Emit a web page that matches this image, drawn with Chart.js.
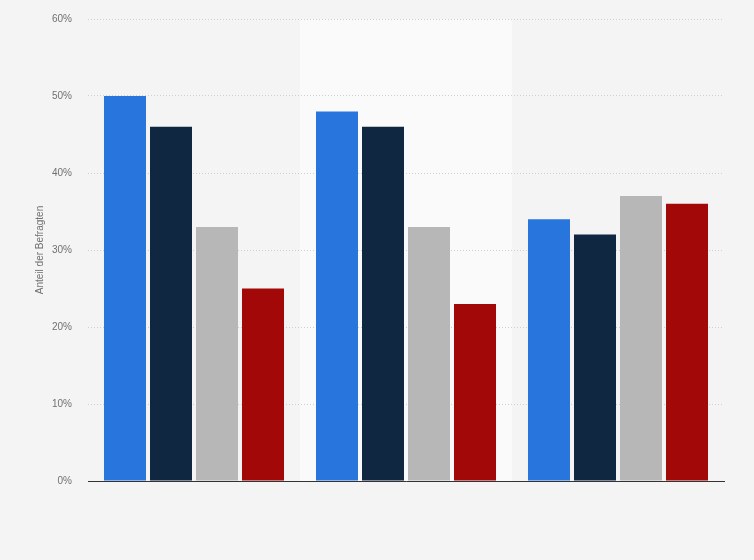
<!DOCTYPE html>
<html>
<head>
<meta charset="utf-8">
<script src="https://cdn.jsdelivr.net/npm/chart.js@4/dist/chart.umd.min.js"></script>
<style>
  html, body { margin: 0; padding: 0; background: #f4f4f4; }
  #wrap { width: 754px; height: 560px; }
</style>
</head>
<body>
<div id="wrap"><canvas id="chart"></canvas></div>
<script>
// categories have no visible labels in the source image
const categories = ['', '', ''];
const seriesA = [50, 48, 34];
const seriesB = [46, 46, 32];
const seriesC = [33, 33, 37];
const seriesD = [25, 23, 36];
const yTicks = [0, 10, 20, 30, 40, 50, 60];

const colors = ['#2876dd', '#0f2741', '#b7b7b7', '#a30808'];

// lighter band behind the middle category
const bandPlugin = {
    id: 'band',
    beforeDraw(chart) {
        const { ctx, chartArea, scales } = chart;
        const x = scales.x;
        const w = (x.right - x.left) / categories.length;
        const cx = x.getPixelForValue(1);
        ctx.save();
        ctx.fillStyle = '#fafafa';
        ctx.fillRect(cx - w / 2, chartArea.top, w, chartArea.bottom - chartArea.top);
        ctx.restore();
    }
};

const ctx = document.getElementById('chart').getContext('2d');
new Chart(ctx, {
    type: 'bar',
    data: {
        labels: categories,
        datasets: [seriesA, seriesB, seriesC, seriesD].map((d, i) => ({
            data: d,
            backgroundColor: colors[i],
            categoryPercentage: 0.868,
            barPercentage: 0.913
        }))
    },
    options: {
        responsive: true,
        maintainAspectRatio: false,
        animation: false,
        layout: { padding: { left: 0, right: 30, top: 19, bottom: 71 } },
        plugins: { legend: { display: false }, tooltip: { enabled: false } },
        font: { family: 'Arial, "Liberation Sans", sans-serif' },
        scales: {
            x: {
                grid: { display: false },
                border: { display: true, color: '#333333', width: 1 },
                ticks: { display: false }
            },
            y: {
                min: 0,
                max: 60,
                afterBuildTicks(scale) {
                    scale.ticks = yTicks.map(v => ({ value: v }));
                },
                afterFit(scale) {
                    scale.width = 88;
                    // the tick padding should not push the plot area down
                    scale.paddingTop = 0;
                    scale.paddingBottom = 0;
                },
                grid: { color: '#cfcfcf', drawTicks: false, lineWidth: 1 },
                border: { display: false, dash: [1, 2] },
                ticks: {
                    padding: 16,
                    color: '#707070',
                    font: { size: 10, family: 'Arial, "Liberation Sans", sans-serif' },
                    callback: v => v + '%'
                },
                title: {
                    display: true,
                    text: 'Anteil der Befragten',
                    color: '#707070',
                    padding: { top: 34, bottom: 0 },
                    font: { size: 10, family: 'Arial, "Liberation Sans", sans-serif' }
                }
            }
        }
    },
    plugins: [bandPlugin]
});
</script>
</body>
</html>
